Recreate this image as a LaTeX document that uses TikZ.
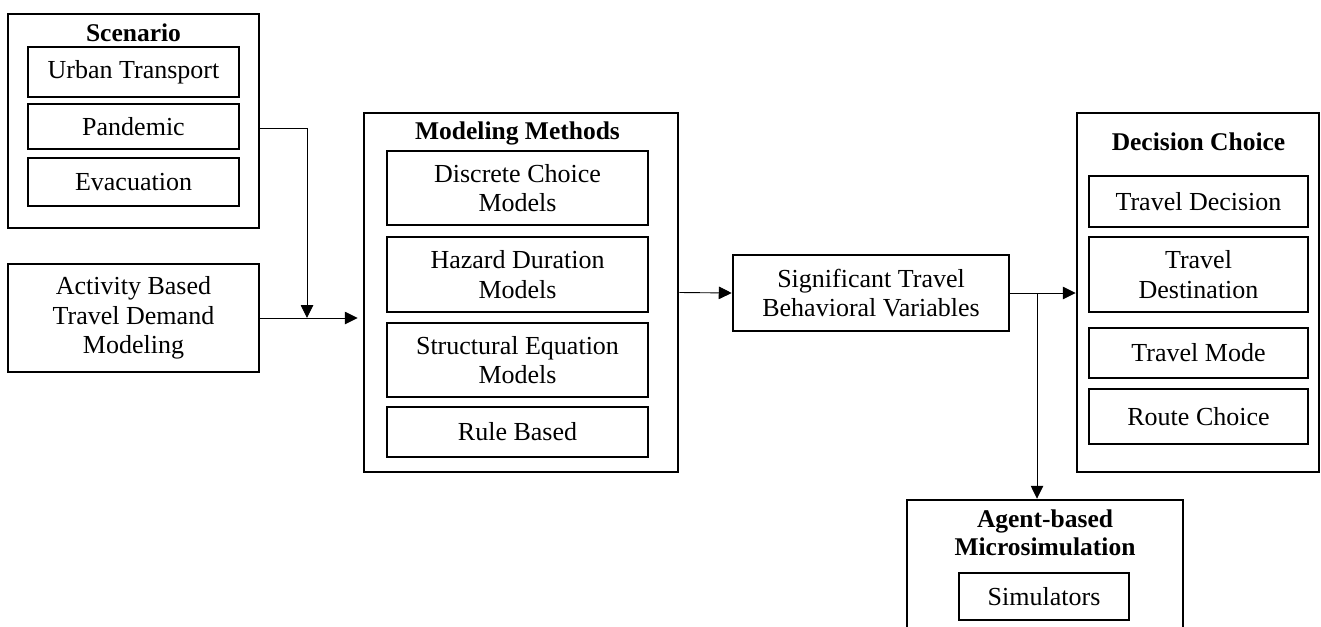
\documentclass[tikz,border=0pt]{standalone}
\usepackage{fontspec}
\setmainfont{Liberation Serif}
\usetikzlibrary{arrows.meta,calc}
\tikzset{
  outerbox/.style={draw, line width=2.5pt, inner sep=0pt},
  innerbox/.style={draw, line width=2.5pt, inner sep=0pt, align=center,
    font=\fontsize{26}{29.5}\selectfont},
  plainbox/.style={innerbox},
  titletext/.style={inner sep=0pt, align=center, font=\fontsize{25.5}{28}\selectfont\bfseries},
  conn/.style={line width=0.9pt, -{Triangle[length=13pt,width=12.5pt]}},
  line/.style={line width=0.9pt}
}
\begin{document}
\begin{tikzpicture}[x=1pt,y=-1pt]
\useasboundingbox (0,0) rectangle (1321,626);
\clip (0,0) rectangle (1321,626);
% Scenario
\node[outerbox, minimum width=251pt, minimum height=214pt] (scen) at (133.5,121) {};
\node[titletext] (scent) at (133.5,33) {Scenario};
\node[innerbox, minimum width=211pt, minimum height=50pt] (urb) at (133.5,72) {Urban Transport};
\node[innerbox, minimum width=211pt, minimum height=45pt] (pan) at (133.5,126.5) {Pandemic};
\node[innerbox, minimum width=211pt, minimum height=48pt] (eva) at (133.5,182) {Evacuation};
% Activity based
\node[plainbox, minimum width=251pt, minimum height=108pt] (act) at (133.5,318) {Activity Based\\Travel Demand\\Modeling};
% Modeling methods
\node[outerbox, minimum width=314pt, minimum height=359pt] (mod) at (521,292.5) {};
\node[titletext] (modt) at (517.5,133) {Modeling Methods};
\node[innerbox, minimum width=261pt, minimum height=74pt] (dcm) at (517.5,188) {Discrete Choice\\Models};
\node[innerbox, minimum width=261pt, minimum height=75pt] (hdm) at (517.5,274.5) {Hazard Duration\\Models};
\node[innerbox, minimum width=261pt, minimum height=74pt] (sem) at (517.5,360) {Structural Equation\\Models};
\node[innerbox, minimum width=261pt, minimum height=50pt] (rb) at (517.5,432) {Rule Based};
% Significant
\node[plainbox, minimum width=276pt, minimum height=76pt] (sig) at (871,293) {Significant Travel\\Behavioral Variables};
% Decision choice
\node[outerbox, minimum width=242pt, minimum height=359pt] (dec) at (1198,292.5) {};
\node[titletext] (dect) at (1198.5,142) {Decision Choice};
\node[innerbox, minimum width=219pt, minimum height=51pt] (td) at (1198.5,201.5) {Travel Decision};
\node[innerbox, minimum width=219pt, minimum height=75pt] (tdest) at (1198.5,274.5) {Travel\\Destination};
\node[innerbox, minimum width=219pt, minimum height=50pt] (tm) at (1198.5,353) {Travel Mode};
\node[innerbox, minimum width=219pt, minimum height=55pt] (rc) at (1198.5,416.5) {Route Choice};
% Agent-based
\node[outerbox, minimum width=276pt, minimum height=150pt] (agent) at (1045,575) {};
\node[titletext] (agentt) at (1045,533) {Agent-based\\Microsimulation};
\node[innerbox, minimum width=170pt, minimum height=47pt] (sim) at (1044,596.5) {Simulators};
% connectors
\coordinate (j1) at (307,318);
\coordinate (s1) at ($(scen.east)+(0,7)$);
\draw[line] (s1) -| ($(j1)+(0,-14)$);
\draw[conn] ($(j1)+(0,-15)$) -- (j1);
\draw[conn, shorten >=5pt] (act.east) -- (mod.west |- act.east);
\draw[conn] (mod.east) -- (sig.west);
\draw[conn] (sig.east) -- (dec.west |- sig.east);
\coordinate (br) at (1037,293);
\draw[conn] (br) -- (br |- agent.north);
\end{tikzpicture}
\end{document}
